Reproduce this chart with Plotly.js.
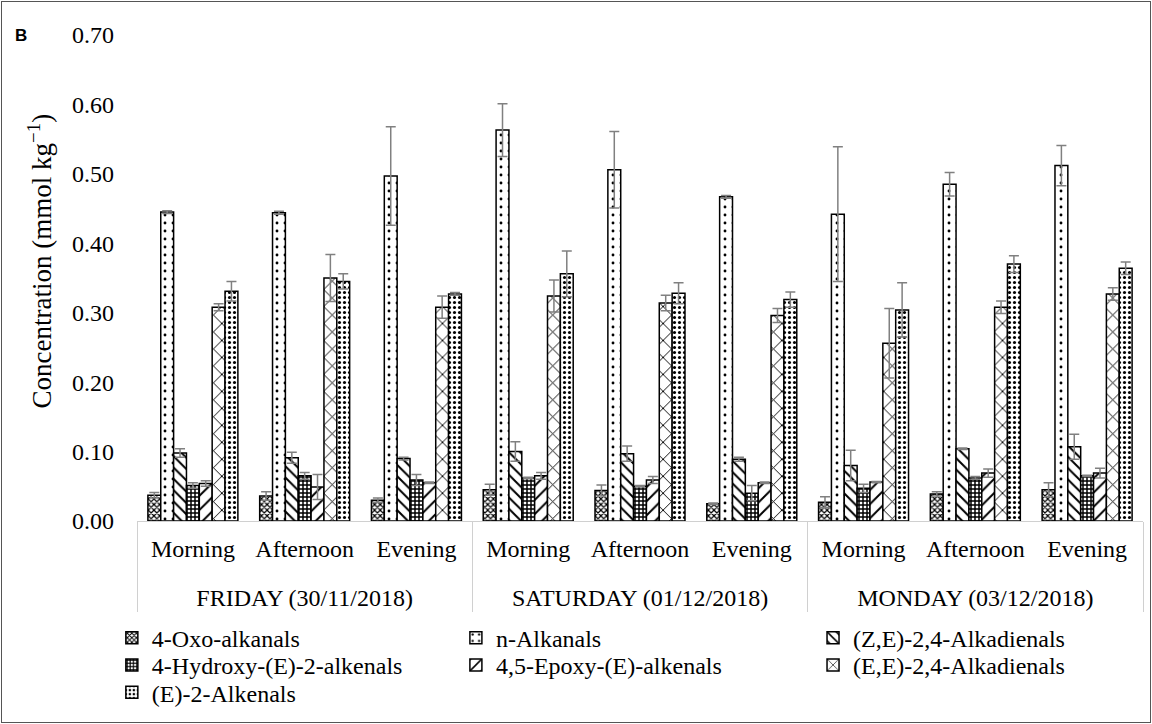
<!DOCTYPE html>
<html>
<head>
<meta charset="utf-8">
<script src="https://cdn.plot.ly/plotly-3.0.1.min.js"></script>
<style>
  html, body { margin: 0; padding: 0; background: #fff; }
  #wrap { position: relative; width: 1152px; height: 724px; }
  #chart { width: 1152px; height: 724px; }
  #frame { position: absolute; left: 1px; top: 1px; right: 1px; bottom: 1px; border: 1px solid #555; pointer-events: none; }
</style>
</head>
<body>
<div id="wrap"><div id="chart"></div><div id="frame"></div></div>
<script>
const days = ['FRIDAY (30/11/2018)', 'SATURDAY (01/12/2018)', 'MONDAY (03/12/2018)'];
const times = ['Morning', 'Afternoon', 'Evening'];

const seriesNames = ['4-Oxo-alkanals', 'n-Alkanals', '(Z,E)-2,4-Alkadienals',
  '4-Hydroxy-(E)-2-alkenals', '4,5-Epoxy-(E)-alkenals', '(E,E)-2,4-Alkadienals', '(E)-2-Alkenals'];

const oxo    = [0.037, 0.036, 0.030, 0.045, 0.044, 0.025, 0.027, 0.039, 0.045];
const oxoErr = [0.004, 0.006, 0.003, 0.008, 0.008, 0.001, 0.008, 0.003, 0.010];
const nAlk    = [0.445, 0.444, 0.497, 0.563, 0.506, 0.467, 0.442, 0.485, 0.512];
const nAlkErr = [0.002, 0.002, 0.071, 0.038, 0.055, 0.002, 0.097, 0.017, 0.029];
const ze    = [0.098, 0.091, 0.090, 0.100, 0.097, 0.089, 0.080, 0.104, 0.107];
const zeErr = [0.006, 0.008, 0.002, 0.014, 0.011, 0.003, 0.022, 0.001, 0.018];
const hyd    = [0.051, 0.065, 0.059, 0.062, 0.050, 0.040, 0.047, 0.062, 0.065];
const hydErr = [0.004, 0.005, 0.008, 0.001, 0.001, 0.011, 0.006, 0.002, 0.001];
const epo    = [0.054, 0.049, 0.055, 0.065, 0.059, 0.055, 0.056, 0.069, 0.069];
const epoErr = [0.004, 0.018, 0.001, 0.005, 0.005, 0.001, 0.001, 0.006, 0.007];
const ee    = [0.308, 0.350, 0.308, 0.324, 0.314, 0.296, 0.256, 0.308, 0.327];
const eeErr = [0.005, 0.034, 0.016, 0.023, 0.011, 0.010, 0.050, 0.009, 0.009];
const e2    = [0.331, 0.345, 0.327, 0.356, 0.328, 0.319, 0.304, 0.370, 0.364];
const e2Err = [0.014, 0.011, 0.002, 0.033, 0.015, 0.011, 0.039, 0.012, 0.009];

const yTickVals = [0, 0.1, 0.2, 0.3, 0.4, 0.5, 0.6, 0.7];
const yTickText = ['0.00', '0.10', '0.20', '0.30', '0.40', '0.50', '0.60', '0.70'];

const values = [oxo, nAlk, ze, hyd, epo, ee, e2];
const errors = [oxoErr, nAlkErr, zeErr, hydErr, epoErr, eeErr, e2Err];

const patterns = [
  {shape: 'x', size: 4, solidity: 0.5},
  {shape: '.', size: 8, solidity: 0.1},
  {shape: '\\', size: 8, solidity: 0.25},
  {shape: '+', size: 4, solidity: 0.6},
  {shape: '/', size: 10, solidity: 0.2},
  {shape: 'x', size: 12, solidity: 0.15},
  {shape: '.', size: 5, solidity: 0.3}
];

// legend grid: 3 columns, filled row by row (one legend per entry)
const legendIds = ['legend', 'legend2', 'legend3', 'legend4', 'legend5', 'legend6', 'legend7'];
const legendCol = [0, 1, 2, 0, 1, 2, 0];
const legendRow = [0, 0, 0, 1, 1, 1, 2];
const colX = [-0.025, 0.317, 0.672];
const rowY = [-0.241, -0.297, -0.353];

// inner labels get an empty second line so the day row sits lower, as in the reference
const dayCat = [], timeCat = [];
days.forEach(d => times.forEach(t => {
  dayCat.push(d);
  timeCat.push(t + '<br><span style="font-size:6px">&nbsp;</span>');
}));

const serif = 'Liberation Serif, Times New Roman, serif';

const traces = seriesNames.map((name, i) => ({
  type: 'bar',
  name: name,
  x: [dayCat, timeCat],
  y: values[i],
  legend: legendIds[i],
  marker: {
    color: 'white',
    line: {color: 'black', width: 1.5},
    pattern: Object.assign({fgcolor: 'black', bgcolor: 'white', fillmode: 'replace'}, patterns[i])
  },
  error_y: {type: 'data', array: errors[i], visible: true, color: '#808080', thickness: 1.5, width: 5}
}));

const layout = {
  width: 1152, height: 724,
  margin: {l: 137, r: 9, t: 35, b: 192},
  paper_bgcolor: 'white', plot_bgcolor: 'white',
  barmode: 'group', bargap: 0.195, bargroupgap: 0,
  font: {family: serif, color: '#000'},
  xaxis: {
    type: 'multicategory',
    showline: true, linecolor: '#d0d0d0', linewidth: 1,
    showdividers: true, dividercolor: '#d0d0d0', dividerwidth: 1,
    ticks: '', ticklabelstandoff: 6, showgrid: false,
    tickfont: {family: serif, size: 24, color: '#000'}
  },
  yaxis: {
    range: [0, 0.7], showgrid: false, zeroline: false, showline: false,
    tickmode: 'array', tickvals: yTickVals, ticktext: yTickText,
    ticks: '', ticklabelstandoff: 22,
    tickfont: {family: serif, size: 24, color: '#000'},
    title: {text: '&nbsp;&nbsp;&nbsp;&nbsp;&nbsp;Concentration (mmol kg<sup>−1</sup>)', font: {family: serif, size: 27, color: '#000'}, standoff: 12}
  },
  annotations: [{
    xref: 'paper', yref: 'paper', x: -0.115, y: 1.0, xanchor: 'center', yanchor: 'middle',
    text: '<b>B</b>', showarrow: false, font: {family: 'Liberation Sans, Arial, sans-serif', size: 17, color: '#000'}
  }],
  showlegend: true
};

legendIds.forEach((id, i) => {
  layout[id] = {
    orientation: 'v', xanchor: 'left', yanchor: 'middle',
    x: colX[legendCol[i]], y: rowY[legendRow[i]],
    bgcolor: 'rgba(0,0,0,0)', borderwidth: 0,
    font: {family: serif, size: 24, color: '#000'},
    itemwidth: 30
  };
});

Plotly.newPlot('chart', traces, layout, {staticPlot: true, displayModeBar: false});
</script>
</body>
</html>
